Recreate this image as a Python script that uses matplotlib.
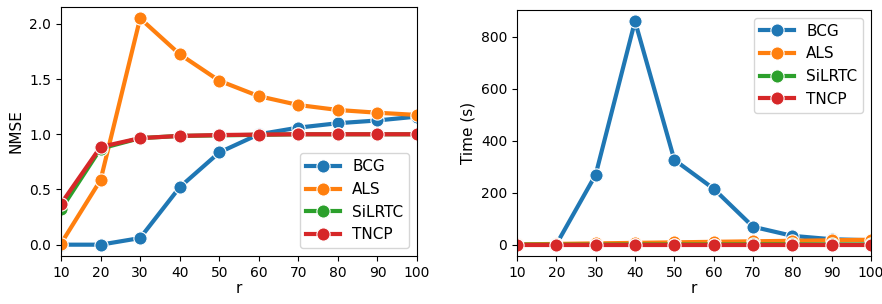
import matplotlib
matplotlib.use("Agg")
import matplotlib.pyplot as plt

r = [10, 20, 30, 40, 50, 60, 70, 80, 90, 100]
methods = ["BCG", "ALS", "SiLRTC", "TNCP"]
colors = ["#1f77b4", "#ff7f0e", "#2ca02c", "#d62728"]

nmse_bcg = [0.0, 0.0, 0.06, 0.52, 0.835, 1.0, 1.06, 1.10, 1.125, 1.16]
nmse_als = [0.01, 0.585, 2.05, 1.725, 1.485, 1.345, 1.265, 1.22, 1.195, 1.175]
nmse_silrtc = [0.32, 0.87, 0.965, 0.985, 0.99, 0.995, 1.0, 1.0, 1.0, 1.0]
nmse_tncp = [0.37, 0.885, 0.965, 0.985, 0.993, 0.997, 1.0, 1.0, 1.0, 1.0]

time_bcg = [1, 2, 270, 860, 327, 216, 70, 35, 22, 18]
time_als = [2, 4, 6, 8, 10, 12, 14, 16, 18, 20]
time_silrtc = [1, 1, 1, 1.5, 1.5, 1.5, 2, 2, 2, 2]
time_tncp = [0.5, 0.5, 0.5, 0.5, 0.5, 0.5, 0.5, 0.5, 0.5, 0.5]

nmse = [nmse_bcg, nmse_als, nmse_silrtc, nmse_tncp]
times = [time_bcg, time_als, time_silrtc, time_tncp]

fig = plt.figure(figsize=(8.82, 3.04), dpi=100)
ax1 = fig.add_axes([61/882, 1-256/304, (417-61)/882, (256-7)/304])
ax2 = fig.add_axes([517/882, 1-256/304, (871-517)/882, (256-10)/304])

for ax, data, ylabel, loc in [(ax1, nmse, "NMSE", "lower right"), (ax2, times, "Time (s)", "upper right")]:
    for name, vals, c in zip(methods, data, colors):
        ax.plot(r, vals, color=c, linewidth=3, marker="o", markersize=9.5,
                markeredgecolor="white", markeredgewidth=0.8, label=name)
    ax.set_xlim(10, 100)
    ax.set_xticks(r)
    ax.set_xlabel("r", fontsize=11, labelpad=1)
    ax.set_ylabel(ylabel, fontsize=11)
    ax.tick_params(labelsize=10)
    ax.legend(loc=loc, fontsize=11, handlelength=2.2)

ax1.set_yticks([0.0, 0.5, 1.0, 1.5, 2.0])
ax2.set_yticks([0, 200, 400, 600, 800])

fig.savefig("out.png", dpi=100)
